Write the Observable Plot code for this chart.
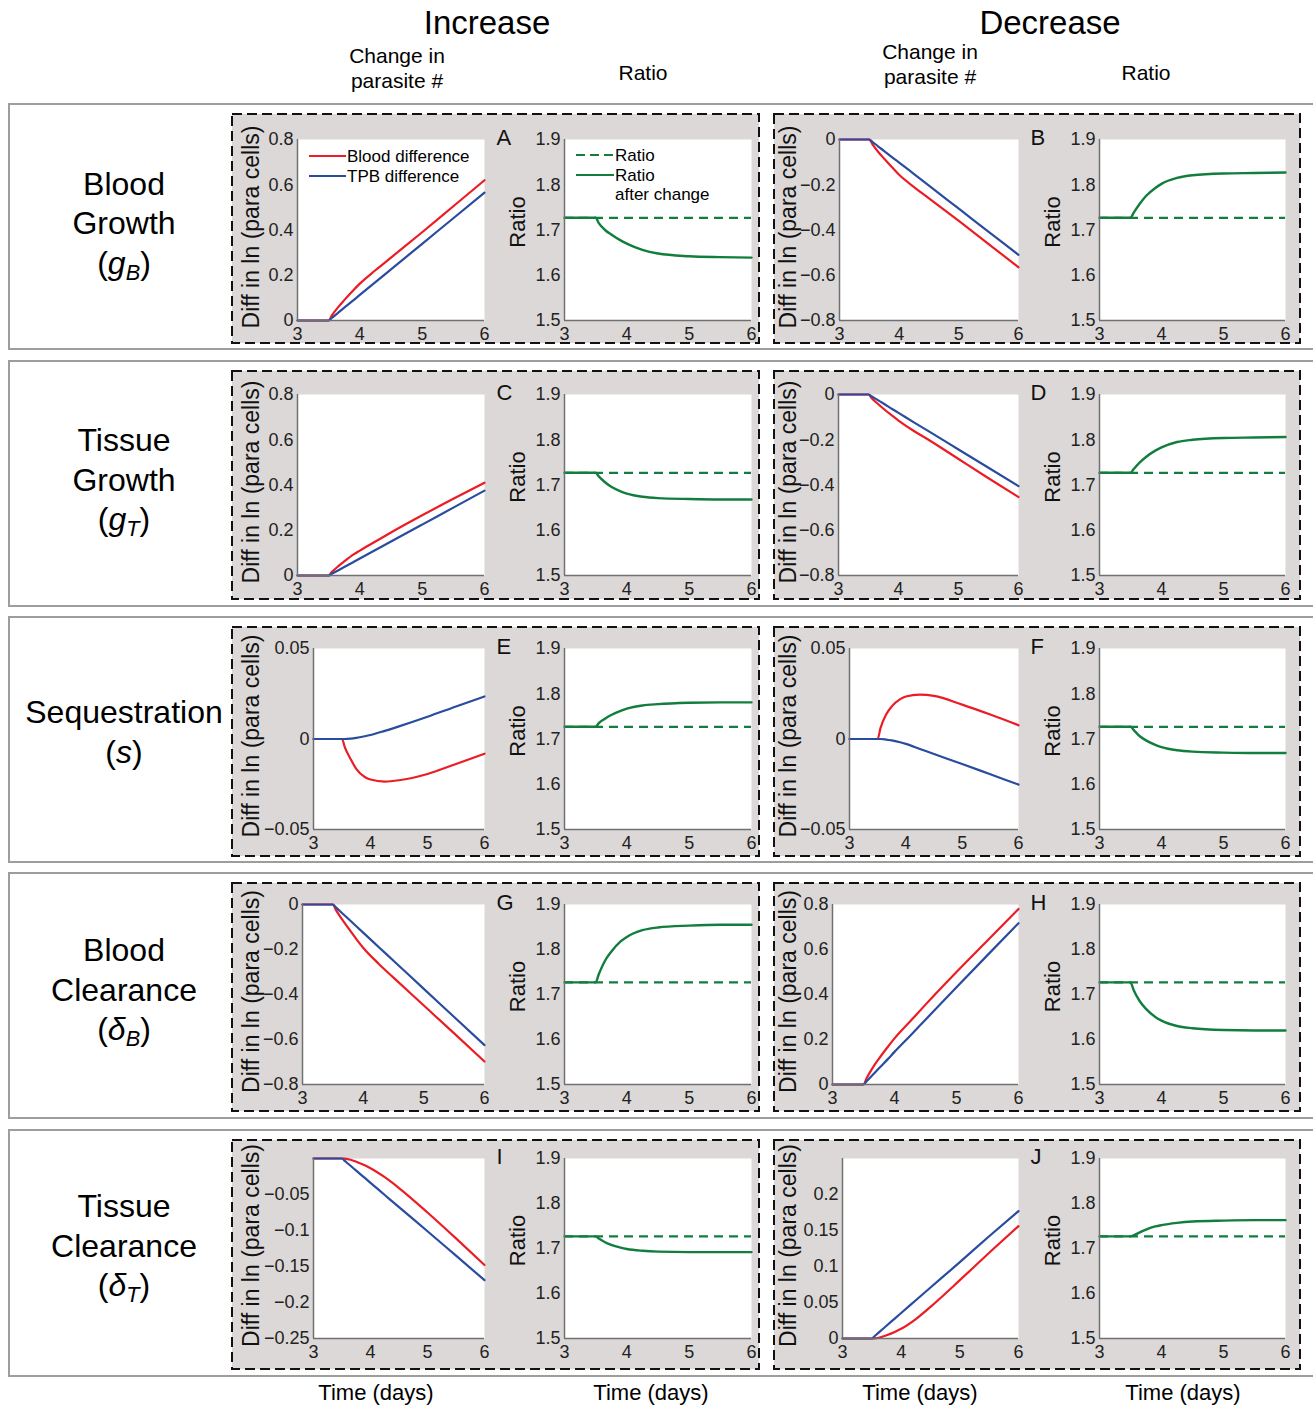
<!DOCTYPE html>
<html>
<head>
<meta charset="utf-8">
<script src="https://cdn.jsdelivr.net/npm/d3@7"></script>
<script src="https://cdn.jsdelivr.net/npm/@observablehq/plot@0.6"></script>
<style>
  body { margin: 0; background: #fff; }
  #root { position: relative; width: 1313px; height: 1406px; overflow: hidden;
          font-family: "Liberation Sans", Arial, Helvetica, sans-serif; color: #000; background: #fff; }
  .t { position: absolute; white-space: nowrap; line-height: 1; }
  .row { position: absolute; box-sizing: border-box; border: 2px solid #9d9d9d; background: #fff; }
  .sub { font-size: 0.68em; vertical-align: -0.28em; }
</style>
</head>
<body>
<div id="root"></div>
<script>
// ---------------- DATA ----------------
const T = [3, 3.5, 3.55, 3.65, 3.75, 3.9, 4, 4.25, 4.5, 5, 5.5, 6];
const RATIO_BASE = 1.727;

// Blood growth (g_B): A = increase, B = decrease
const A_blood = [0, 0, 0.022, 0.058, 0.09, 0.135, 0.163, 0.222, 0.278, 0.39, 0.505, 0.62];
const A_tpb   = [0, 0, 0.011, 0.034, 0.057, 0.09, 0.113, 0.17, 0.226, 0.339, 0.452, 0.565];
const A_ratio = [1.727, 1.727, 1.715, 1.70, 1.69, 1.677, 1.67, 1.656, 1.648, 1.642, 1.64, 1.639];
const B_blood = [0, 0, -0.02, -0.055, -0.085, -0.128, -0.156, -0.21, -0.26, -0.36, -0.462, -0.565];
const B_tpb   = [0, 0, -0.01, -0.031, -0.051, -0.082, -0.102, -0.153, -0.204, -0.306, -0.408, -0.51];
const B_ratio = [1.727, 1.727, 1.738, 1.758, 1.775, 1.793, 1.802, 1.815, 1.821, 1.825, 1.826, 1.827];
// Tissue growth (g_T): C = increase, D = decrease
const C_blood = [0, 0, 0.015, 0.04, 0.062, 0.093, 0.11, 0.15, 0.19, 0.266, 0.339, 0.41];
const C_tpb   = [0, 0, 0.0075, 0.0225, 0.0375, 0.06, 0.075, 0.1125, 0.15, 0.225, 0.3, 0.375];
const C_ratio = [1.727, 1.727, 1.719, 1.706, 1.696, 1.686, 1.681, 1.674, 1.671, 1.669, 1.668, 1.668];
const D_blood = [0, 0, -0.015, -0.04, -0.063, -0.095, -0.115, -0.16, -0.2, -0.285, -0.37, -0.453];
const D_tpb   = [0, 0, -0.008, -0.024, -0.04, -0.065, -0.081, -0.122, -0.162, -0.243, -0.324, -0.405];
const D_ratio = [1.727, 1.727, 1.735, 1.75, 1.762, 1.776, 1.783, 1.795, 1.8, 1.804, 1.805, 1.806];
// Sequestration (s): E = increase, F = decrease
const E_blood = [0, 0, -0.0046, -0.011, -0.0165, -0.021, -0.0224, -0.0235, -0.0228, -0.0193, -0.0138, -0.0081];
const E_tpb   = [0, 0, 0, 0.0002, 0.0006, 0.0015, 0.0022, 0.0045, 0.007, 0.0123, 0.018, 0.0235];
const E_ratio = [1.727, 1.727, 1.735, 1.745, 1.753, 1.762, 1.767, 1.774, 1.777, 1.78, 1.781, 1.781];
const F_blood = [0, 0, 0.006, 0.0135, 0.018, 0.022, 0.0235, 0.0245, 0.0238, 0.019, 0.0135, 0.0076];
const F_tpb   = [0, 0, 0, -0.0003, -0.0008, -0.0018, -0.0027, -0.0055, -0.0083, -0.0138, -0.0195, -0.0252];
const F_ratio = [1.727, 1.727, 1.72, 1.706, 1.697, 1.687, 1.682, 1.675, 1.672, 1.67, 1.669, 1.669];
// Blood clearance (delta_B): G = increase, H = decrease
const G_blood = [0, 0, -0.024, -0.065, -0.103, -0.158, -0.192, -0.262, -0.325, -0.449, -0.573, -0.698];
const G_tpb   = [0, 0, -0.0125, -0.0375, -0.0625, -0.1, -0.125, -0.1875, -0.25, -0.375, -0.5, -0.625];
const G_ratio = [1.727, 1.727, 1.745, 1.775, 1.795, 1.818, 1.828, 1.843, 1.849, 1.853, 1.855, 1.855];
const H_blood = [0, 0, 0.028, 0.075, 0.115, 0.17, 0.205, 0.28, 0.355, 0.5, 0.64, 0.78];
const H_tpb   = [0, 0, 0.014, 0.043, 0.072, 0.115, 0.145, 0.216, 0.288, 0.432, 0.575, 0.717];
const H_ratio = [1.727, 1.727, 1.71, 1.685, 1.668, 1.65, 1.642, 1.63, 1.625, 1.621, 1.62, 1.62];
// Tissue clearance (delta_T): I = increase, J = decrease
const I_blood = [0, 0, -0.0003, -0.0018, -0.0045, -0.0095, -0.0135, -0.026, -0.041, -0.075, -0.111, -0.148];
const I_tpb   = [0, 0, -0.0034, -0.0101, -0.0169, -0.027, -0.0338, -0.0507, -0.0676, -0.101, -0.135, -0.169];
const I_ratio = [1.727, 1.727, 1.722, 1.714, 1.708, 1.702, 1.699, 1.695, 1.693, 1.692, 1.692, 1.692];
const J_blood = [0, 0, 0.0003, 0.0018, 0.0045, 0.0095, 0.0135, 0.027, 0.044, 0.081, 0.119, 0.156];
const J_tpb   = [0, 0, 0.0035, 0.0106, 0.0177, 0.0283, 0.0354, 0.0531, 0.0708, 0.106, 0.142, 0.177];
const J_ratio = [1.727, 1.727, 1.729, 1.736, 1.742, 1.749, 1.752, 1.757, 1.76, 1.762, 1.763, 1.763];

// Tick labels
const X_TICKS = [3, 4, 5, 6];
const TICKS_POS08 = [0, 0.2, 0.4, 0.6, 0.8];
const TICKS_NEG08 = [-0.8, -0.6, -0.4, -0.2, 0];
const TICKS_SEQ = [-0.05, 0, 0.05];
const TICKS_I = [-0.25, -0.2, -0.15, -0.1, -0.05];
const TICKS_J = [0, 0.05, 0.1, 0.15, 0.2];
const TICKS_RATIO = [1.5, 1.6, 1.7, 1.8, 1.9];

// Text
const HEADERS = ["Increase", "Decrease"];
const SUBHEAD_CHANGE = ["Change in", "parasite #"];
const SUBHEAD_RATIO = "Ratio";
const ROW_LABELS = [
  ["Blood", "Growth", "(<i>g<span class='sub'>B</span></i>)"],
  ["Tissue", "Growth", "(<i>g<span class='sub'>T</span></i>)"],
  ["Sequestration", "(<i>s</i>)"],
  ["Blood", "Clearance", "(<i>δ<span class='sub'>B</span></i>)"],
  ["Tissue", "Clearance", "(<i>δ<span class='sub'>T</span></i>)"]
];
const DIFF_LABEL = "Diff in ln (para cells)";
const RATIO_LABEL = "Ratio";
const TIME_LABEL = "Time (days)";
const LEGEND_DIFF = ["Blood difference", "TPB difference"];
const LEGEND_RATIO = ["Ratio", "Ratio", "after change"];

// ---------------- STYLE / LAYOUT ----------------
const RED = "#ec1c24", BLUE = "#2a4c9f", GREEN = "#127e3e";
const PANEL_BG = "#dcd8d7";
const FONT = '"Liberation Sans", Arial, Helvetica, sans-serif';
const TICK_FS = 18;

const ROWS = [
  {row: [103, 350], dash: [114, 343], frame: [139, 320], label: [184, 223, 265]},
  {row: [360, 607], dash: [371, 599], frame: [394, 575], label: [440, 480, 521]},
  {row: [616, 863], dash: [627, 856], frame: [648, 829], label: [712, 752]},
  {row: [872, 1119], dash: [883, 1111], frame: [904, 1084], label: [950, 990, 1031]},
  {row: [1129, 1377], dash: [1140, 1369], frame: [1158, 1338], label: [1206, 1246, 1287]}
];
const COLS = [
  {dash: [232, 759], diffRight: 484, diffLabelX: 251, ratio: [564, 751], ratioLabelX: 517},
  {dash: [774, 1300], diffRight: 1018, diffLabelX: 788, ratio: [1099, 1285], ratioLabelX: 1052}
];
const PANELS = [
  {r: 0, c: 0, letter: "A", blood: A_blood, tpb: A_tpb, ratio: A_ratio, yd: [0, 0.8], yt: TICKS_POS08, left: 297},
  {r: 0, c: 1, letter: "B", blood: B_blood, tpb: B_tpb, ratio: B_ratio, yd: [-0.8, 0], yt: TICKS_NEG08, left: 839},
  {r: 1, c: 0, letter: "C", blood: C_blood, tpb: C_tpb, ratio: C_ratio, yd: [0, 0.8], yt: TICKS_POS08, left: 297},
  {r: 1, c: 1, letter: "D", blood: D_blood, tpb: D_tpb, ratio: D_ratio, yd: [-0.8, 0], yt: TICKS_NEG08, left: 838},
  {r: 2, c: 0, letter: "E", blood: E_blood, tpb: E_tpb, ratio: E_ratio, yd: [-0.05, 0.05], yt: TICKS_SEQ, left: 313},
  {r: 2, c: 1, letter: "F", blood: F_blood, tpb: F_tpb, ratio: F_ratio, yd: [-0.05, 0.05], yt: TICKS_SEQ, left: 849},
  {r: 3, c: 0, letter: "G", blood: G_blood, tpb: G_tpb, ratio: G_ratio, yd: [-0.8, 0], yt: TICKS_NEG08, left: 302},
  {r: 3, c: 1, letter: "H", blood: H_blood, tpb: H_tpb, ratio: H_ratio, yd: [0, 0.8], yt: TICKS_POS08, left: 832},
  {r: 4, c: 0, letter: "I", blood: I_blood, tpb: I_tpb, ratio: I_ratio, yd: [-0.25, 0], yt: TICKS_I, left: 313},
  {r: 4, c: 1, letter: "J", blood: J_blood, tpb: J_tpb, ratio: J_ratio, yd: [0, 0.25], yt: TICKS_J, left: 842}
];

const root = document.getElementById("root");

function addText(x, y, html, size, align = "center") {
  const d = document.createElement("div");
  d.className = "t";
  d.style.left = x + "px";
  d.style.top = y + "px";
  d.style.fontSize = size + "px";
  d.style.transform = align === "center" ? "translate(-50%,-50%)" : "translate(0,-50%)";
  d.innerHTML = html;
  root.appendChild(d);
  return d;
}
function addBox(cls, x0, y0, x1, y1) {
  const d = document.createElement("div");
  d.className = cls;
  Object.assign(d.style, {left: x0 + "px", top: y0 + "px", width: (x1 - x0) + "px", height: (y1 - y0) + "px"});
  root.appendChild(d);
}
function addDashedBox(x0, y0, x1, y1) {
  const ns = "http://www.w3.org/2000/svg";
  const s = document.createElementNS(ns, "svg");
  s.setAttribute("width", x1 - x0 + 4);
  s.setAttribute("height", y1 - y0 + 4);
  Object.assign(s.style, {position: "absolute", left: (x0 - 2) + "px", top: (y0 - 2) + "px"});
  const r = document.createElementNS(ns, "rect");
  r.setAttribute("x", 2); r.setAttribute("y", 2);
  r.setAttribute("width", x1 - x0); r.setAttribute("height", y1 - y0);
  r.setAttribute("fill", PANEL_BG); r.setAttribute("stroke", "#111");
  r.setAttribute("stroke-width", 2); r.setAttribute("stroke-dasharray", "10,5");
  s.appendChild(r);
  root.appendChild(s);
}

const fmt = d => d === 0 ? "0" : (d < 0 ? "\u2212" : "") + String(Math.abs(d));
const toData = arr => T.map((t, i) => ({t, v: arr[i]}));

function placePlot(opts) {
  const ML = 100, MR = 50, MT = 30, MB = 36;
  const {x0, x1, y0, y1, yd, yt, marks} = opts;
  const svg = Plot.plot({
    width: x1 - x0 + ML + MR,
    height: y1 - y0 + MT + MB,
    marginLeft: ML, marginRight: MR, marginTop: MT, marginBottom: MB,
    x: {domain: [3, 6], label: null},
    y: {domain: yd, label: null},
    style: {background: "transparent", overflow: "visible", fontFamily: FONT, fontSize: TICK_FS + "px", color: "#1a1a1a"},
    marks: [
      Plot.frame({fill: "white", stroke: "none"}),
      ...marks,
      Plot.ruleX([3], {stroke: "#707070", strokeWidth: 1.5}),
      Plot.ruleY([yd[0]], {stroke: "#707070", strokeWidth: 1.5}),
      Plot.axisX({ticks: X_TICKS, tickSize: 0, tickPadding: 7, tickFormat: fmt, label: null,
                  fontSize: TICK_FS, fill: "#222"}),
      Plot.axisY({ticks: yt, tickSize: 0, tickPadding: 4, tickFormat: fmt, label: null,
                  fontSize: TICK_FS, fill: "#222"})
    ]
  });
  Object.assign(svg.style, {position: "absolute", left: (x0 - ML) + "px", top: (y0 - MT) + "px", maxWidth: "none"});
  root.appendChild(svg);
}

// ---------------- HEADERS ----------------
addText(487, 22, HEADERS[0], 33);
addText(1050, 22, HEADERS[1], 33);
addText(397, 55, SUBHEAD_CHANGE[0], 21);
addText(397, 80, SUBHEAD_CHANGE[1], 21);
addText(643, 72, SUBHEAD_RATIO, 21);
addText(930, 51, SUBHEAD_CHANGE[0], 21);
addText(930, 76, SUBHEAD_CHANGE[1], 21);
addText(1146, 72, SUBHEAD_RATIO, 21);

// ---------------- ROWS ----------------
ROWS.forEach((R, ri) => {
  addBox("row", 8, R.row[0], 1320, R.row[1]);
  ROW_LABELS[ri].forEach((line, li) => addText(124, R.label[li], line, 32));
  COLS.forEach(C => addDashedBox(C.dash[0], R.dash[0], C.dash[1], R.dash[1]));
});

// ---------------- PANELS ----------------
PANELS.forEach(P => {
  const R = ROWS[P.r], C = COLS[P.c];
  const [y0, y1] = R.frame;
  // parasite difference plot
  placePlot({
    x0: P.left, x1: C.diffRight, y0, y1, yd: P.yd, yt: P.yt,
    marks: [
      Plot.line(toData(P.blood), {x: "t", y: "v", stroke: RED, strokeWidth: 2.2, curve: "monotone-x"}),
      Plot.line(toData(P.tpb), {x: "t", y: "v", stroke: BLUE, strokeWidth: 2.2, curve: "monotone-x"}),
      Plot.text([DIFF_LABEL], {text: d => d, frameAnchor: "left", dx: C.diffLabelX - P.left, dy: -3,
        rotate: -90, fontSize: 23, textAnchor: "middle", lineAnchor: "middle", fill: "#111"}),
      Plot.text([P.letter], {text: d => d, frameAnchor: "top-right", dx: 12, dy: -2,
        fontSize: 22, textAnchor: "start", lineAnchor: "middle", fill: "#111"})
    ]
  });
  // ratio plot
  placePlot({
    x0: C.ratio[0], x1: C.ratio[1], y0, y1, yd: [1.5, 1.9], yt: TICKS_RATIO,
    marks: [
      Plot.ruleY([RATIO_BASE], {stroke: GREEN, strokeWidth: 2.2, strokeDasharray: "9,6"}),
      Plot.line(toData(P.ratio), {x: "t", y: "v", stroke: GREEN, strokeWidth: 2.4, curve: "monotone-x"}),
      Plot.text([RATIO_LABEL], {text: d => d, frameAnchor: "left", dx: C.ratioLabelX - C.ratio[0], dy: -8,
        rotate: -90, fontSize: 22, textAnchor: "middle", lineAnchor: "middle", fill: "#111"})
    ]
  });
});

// ---------------- LEGENDS (panel A) ----------------
function legendLine(x0, x1, y, color, dash) {
  const ns = "http://www.w3.org/2000/svg";
  const s = document.createElementNS(ns, "svg");
  s.setAttribute("width", x1 - x0); s.setAttribute("height", 6);
  Object.assign(s.style, {position: "absolute", left: x0 + "px", top: (y - 3) + "px"});
  const l = document.createElementNS(ns, "line");
  l.setAttribute("x1", 0); l.setAttribute("x2", x1 - x0);
  l.setAttribute("y1", 3); l.setAttribute("y2", 3);
  l.setAttribute("stroke", color); l.setAttribute("stroke-width", 2.2);
  if (dash) l.setAttribute("stroke-dasharray", dash);
  s.appendChild(l);
  root.appendChild(s);
}
legendLine(309, 346, 156, RED);
addText(347, 156, LEGEND_DIFF[0], 17, "left");
legendLine(309, 346, 176, BLUE);
addText(347, 176, LEGEND_DIFF[1], 17, "left");
legendLine(576, 614, 155, GREEN, "9,5");
addText(615, 155, LEGEND_RATIO[0], 17, "left");
legendLine(576, 614, 175, GREEN);
addText(615, 175, LEGEND_RATIO[1], 17, "left");
addText(615, 194, LEGEND_RATIO[2], 17, "left");

// ---------------- X TITLES ----------------
addText(376, 1393, TIME_LABEL, 22);
addText(651, 1393, TIME_LABEL, 22);
addText(920, 1393, TIME_LABEL, 22);
addText(1183, 1393, TIME_LABEL, 22);
</script>
</body>
</html>
